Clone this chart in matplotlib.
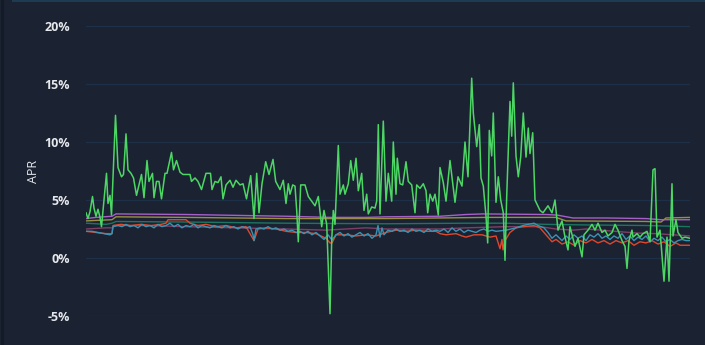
import matplotlib
matplotlib.use("Agg")
import matplotlib.pyplot as plt
from matplotlib.lines import Line2D
from matplotlib.ticker import FuncFormatter

# ---------------- data (day index, APR %) ----------------
green_day = [0, 2, 4, 6.5, 8, 10, 12, 14, 15.5, 18, 20.5, 22, 24, 25.5, 29.5, 32, 35.5, 37.5, 40, 42,
             45, 47.5, 50.5, 55.5, 58, 61, 63, 66.5, 68, 70.5, 73, 75.5, 79, 81, 85.5, 87.5, 90.5, 94, 97, 104,
             105.5, 109, 112, 115.5, 120, 124.5, 126, 129, 132, 135, 137, 140, 144, 147, 150, 154, 157, 160.5, 164.7, 168,
             170.7, 173, 176, 179.7, 183, 187, 189.7, 194, 197.3, 200, 202.3, 204, 206.7, 209, 210.7, 212.3, 214.7, 219, 222.3, 225.7,
             229, 232.3, 235.7, 238, 240.7, 244, 245.7, 247.3, 249, 252.3, 254, 257.3, 259, 262.3, 264.7, 267.3, 270, 272.3, 275.7, 278,
             280.7, 282.3, 285.7, 289, 290.7, 292.3, 294, 297.3, 300, 302.3, 305.7, 307.3, 310, 311.3, 314, 316.7, 320, 322.3, 325.7, 329,
             330.7, 334, 337.3, 340, 341.7, 344, 346.7, 349, 352.3, 354, 357.3, 360, 364, 369, 372, 376, 379, 382, 385.7, 387.3,
             390.7, 393.3, 395, 397.3, 400, 401.7, 403.3, 405.7, 407.3, 410, 412.3, 414.7, 417.3, 419, 420.7, 424, 425.7, 427.3, 430, 432.3,
             434.7, 437.3, 440, 442.3, 444, 446.7, 449, 454, 457, 462, 466, 469, 472, 476, 479, 482, 484, 489,
             492, 496, 498, 502, 506, 509, 512, 516, 519, 522, 526, 529, 532, 536, 539, 541, 543, 546, 547, 551,
             554, 557, 561, 564, 567, 569, 571, 574, 578, 581, 583, 586, 587, 590, 592, 596, 599, 604]
green_apr = [3.9, 3.4, 4.0, 5.3, 4.3, 3.6, 4.2, 3.5, 2.7, 5.0, 7.3, 4.7, 5.4, 3.7, 12.3, 7.8, 7.0, 7.2, 10.7, 7.6,
             7.3, 6.9, 5.4, 7.2, 5.2, 8.4, 6.6, 7.3, 5.2, 6.6, 6.6, 5.1, 7.3, 7.3, 9.1, 7.6, 8.4, 7.4, 7.2, 7.2,
             6.6, 6.9, 6.6, 5.9, 7.3, 7.3, 5.9, 6.6, 6.5, 7.0, 5.1, 6.3, 6.7, 6.1, 6.7, 6.3, 6.4, 5.1, 7.1, 3.4,
             7.3, 3.9, 6.4, 8.3, 7.2, 8.5, 6.6, 5.9, 6.7, 4.7, 6.4, 5.5, 6.3, 6.2, 4.1, 1.4, 6.3, 6.3, 5.3, 4.9,
             4.5, 5.3, 2.7, 4.1, 2.9, -4.8, 1.55, 4.1, 2.9, 9.7, 5.5, 6.3, 5.5, 6.4, 8.4, 6.7, 8.6, 5.8, 7.3, 4.1,
             5.5, 3.8, 4.4, 4.3, 4.9, 11.5, 3.8, 11.8, 4.9, 7.3, 4.9, 10.0, 5.5, 8.6, 6.4, 6.3, 8.3, 6.6, 6.3, 3.9,
             6.3, 6.0, 6.4, 5.8, 3.9, 5.5, 4.9, 5.5, 3.7, 7.8, 6.5, 4.9, 8.4, 4.8, 7.0, 6.2, 10.0, 7.0, 15.5, 12.5,
             9.6, 11.5, 6.9, 6.2, 3.6, 1.3, 11.0, 8.8, 12.5, 4.8, 7.0, 5.0, 3.9, -0.2, 5.3, 13.5, 10.5, 15.1, 8.8, 7.0,
             8.7, 12.5, 8.7, 11.2, 9.0, 10.8, 5.0, 4.1, 3.9, 4.5, 3.9, 5.0, 2.4, 3.2, 1.8, 0.7, 2.7, 1.0,
             1.7, 0.1, 2.0, 2.4, 2.9, 2.4, 3.0, 2.2, 2.4, 1.9, 2.2, 2.9, 2.4, 1.5, 1.0, -0.9, 1.5, 2.4, 1.8, 2.1,
             1.8, 2.1, 2.3, 1.4, 7.6, 7.7, 1.8, 2.4, -2.0, 1.8, -2.0, 6.4, 1.9, 3.3, 2.2, 1.7, 1.8, 1.7]

purple_day = [0, 10, 26, 30, 100, 200, 244, 280, 300, 354, 380, 397, 460, 471, 487, 520, 560, 575, 604]
purple_apr = [3.4, 3.5, 3.6, 3.8, 3.75, 3.6, 3.5, 3.5, 3.55, 3.6, 3.75, 3.8, 3.75, 3.7, 3.45, 3.45, 3.4, 3.3, 3.3]

olive_day = [0, 26, 30, 100, 200, 300, 354, 400, 470, 480, 560, 575, 580, 604]
olive_apr = [3.2, 3.3, 3.55, 3.5, 3.4, 3.4, 3.45, 3.5, 3.5, 3.2, 3.15, 3.1, 3.45, 3.5]

teal_day = [0, 20, 26, 30, 100, 200, 300, 380, 420, 460, 500, 560, 604]
teal_apr = [3.0, 2.9, 3.0, 3.15, 3.1, 3.0, 2.95, 3.0, 3.0, 2.9, 2.85, 2.8, 2.7]

mauve_day = [0, 20, 26, 28, 60, 100, 150, 200, 240, 280, 300, 354, 380, 420, 454, 470, 487, 500, 551, 570, 604]
mauve_apr = [2.5, 2.6, 2.6, 2.8, 2.8, 2.7, 2.6, 2.5, 2.4, 2.6, 2.5, 2.5, 2.6, 2.7, 2.7, 2.5, 2.4, 2.5, 2.15, 2.1, 1.9]

red_day = [0, 10, 20, 26, 27, 35, 45, 55, 65, 75, 80, 82, 95, 100, 104, 112, 120, 130, 140, 150,
           160, 168, 172, 180, 190, 200, 210, 220, 230, 240, 244, 246, 250, 260, 270, 280, 290, 300, 310, 320,
           330, 340, 350, 354, 360, 370, 376, 380, 388, 396, 404, 410, 414, 416, 417, 419, 424, 430, 437, 448,
           454, 460, 466, 470, 476, 482, 488, 494, 500, 506, 512, 518, 524, 530, 536, 542, 548, 554, 560, 566,
           572, 578, 584, 590, 594, 598, 604]
red_apr = [2.3, 2.2, 2.1, 2.1, 2.8, 2.9, 2.8, 2.9, 2.8, 2.9, 3.0, 3.3, 3.3, 3.3, 3.0, 2.8, 2.9, 2.7, 2.8, 2.6,
           2.7, 1.5, 2.5, 2.6, 2.5, 2.3, 2.2, 2.2, 2.1, 1.7, 1.3, 1.3, 2.0, 2.0, 1.9, 2.0, 1.9, 2.2, 2.4, 2.3,
           2.4, 2.3, 2.3, 2.1, 2.0, 2.1, 1.9, 1.8, 2.0, 2.0, 1.8, 1.9, 0.8, 1.6, 0.7, 1.5, 2.2, 2.6, 2.7, 2.8,
           2.6, 2.0, 1.4, 1.6, 1.2, 1.4, 1.1, 1.5, 1.3, 1.6, 1.3, 1.5, 1.2, 1.5, 1.3, 1.5, 1.1, 1.4, 1.3, 1.5,
           1.2, 1.4, 1.0, 1.3, 1.1, 1.1, 1.1]

cyan_day = [0, 6, 12, 18, 24, 26, 27, 32, 36, 40, 44, 48, 52, 56, 60, 64, 68, 72, 76, 80,
            84, 88, 92, 96, 100, 104, 108, 112, 116, 120, 124, 128, 132, 136, 140, 144, 148, 152, 156, 160,
            164, 167, 168, 170, 174, 178, 182, 186, 190, 194, 198, 202, 206, 210, 214, 218, 222, 226, 230, 234,
            238, 242, 246, 250, 254, 258, 262, 266, 270, 274, 278, 282, 286, 290, 292, 294, 296, 298, 302, 306,
            310, 314, 318, 322, 326, 330, 334, 338, 342, 346, 350, 354, 358, 362, 366, 370, 374, 378, 382, 386,
            390, 394, 398, 402, 406, 410, 420, 430, 437, 442, 448, 452, 458, 462, 466, 470, 476, 480, 484, 488,
            492, 496, 500, 504, 508, 512, 516, 520, 524, 528, 532, 536, 540, 544, 548, 552, 556, 560, 564, 568,
            572, 576, 580, 584, 588, 592, 596, 600, 604]
cyan_apr = [2.3, 2.3, 2.2, 2.1, 2.0, 2.1, 2.7, 2.8, 2.7, 2.9, 2.7, 2.8, 2.6, 2.9, 2.7, 2.8, 2.6, 2.9, 2.7, 2.8,
            3.0, 2.7, 2.9, 2.6, 2.8, 2.7, 2.9, 2.6, 2.8, 2.7, 2.6, 2.8, 2.7, 2.6, 2.8, 2.6, 2.7, 2.5, 2.7, 2.6,
            2.7, 2.0, 1.5, 2.5, 2.6, 2.5, 2.7, 2.5, 2.6, 2.4, 2.5, 2.3, 2.4, 2.2, 2.3, 2.1, 2.3, 2.0, 2.2, 1.9,
            1.6, 2.0, 1.55, 2.0, 2.2, 1.9, 2.1, 1.8, 2.0, 2.2, 1.9, 2.1, 1.7, 2.0, 2.8, 1.8, 2.6, 2.0, 2.4, 2.3,
            2.5, 2.3, 2.4, 2.2, 2.5, 2.3, 2.4, 2.2, 2.5, 2.3, 2.4, 2.3, 2.5, 2.2, 2.6, 2.3, 2.5, 2.2, 2.4, 2.3,
            2.2, 2.4, 2.5, 2.3, 2.4, 2.3, 2.4, 2.6, 2.8, 2.9, 3.0, 2.8, 2.6, 2.2, 1.7, 2.0, 1.5, 1.9, 1.6, 2.0,
            1.7, 1.9, 1.5, 2.0, 1.8, 2.1, 1.7, 1.9, 1.6, 1.9, 1.7, 2.1, 1.6, 1.9, 1.5, 1.8, 1.6, 1.9, 1.4, 1.7,
            1.5, 1.8, 1.4, 1.6, 1.3, 1.5, 1.6, 1.5, 1.5]

y_ticks = [-5, 0, 5, 10, 15, 20]
y_label = "APR"

# ---------------- style ----------------
BG = "#1b2232"
GRID = "#1e3048"
TXT = "#e6e8ec"

fig = plt.figure(figsize=(7.05, 3.45), dpi=100, facecolor=BG)
ax = fig.add_axes([86 / 705, (345 - 316) / 345, 604 / 705, 290 / 345])
ax.set_facecolor(BG)

lw = 1.0
ax.plot(mauve_day, mauve_apr, color="#7e3f66", lw=lw)
ax.plot(teal_day, teal_apr, color="#1b7560", lw=lw)
ax.plot(red_day, red_apr, color="#e0472c", lw=lw)
ax.plot(cyan_day, cyan_apr, color="#3b93b3", lw=lw)
ax.plot(olive_day, olive_apr, color="#998f40", lw=lw)
ax.plot(purple_day, purple_apr, color="#a65fcb", lw=lw)
ax.plot(green_day, green_apr, color="#4cd764", lw=1.1)

ax.set_xlim(0, 604)
ax.set_ylim(-5, 20)
ax.set_yticks(y_ticks)
ax.yaxis.set_major_formatter(FuncFormatter(lambda v, p: f"{v:.0f}%"))
ax.set_xticks([])
ax.grid(axis="y", color=GRID, lw=1)
ax.set_axisbelow(True)
for s in ax.spines.values():
    s.set_visible(False)
ax.tick_params(axis="y", length=0, pad=11.5, labelsize=9, labelcolor=TXT)
for t in ax.get_yticklabels():
    t.set_fontfamily("Open Sans")
    t.set_fontweight("bold")
ax.set_ylabel(y_label, color=TXT, fontsize=9, fontfamily="Open Sans", labelpad=3.5)

# frame decorations
fig.add_artist(Line2D([13 / 705, 1], [0.998, 0.998], color="#1f3b52", lw=1.5, transform=fig.transFigure))
fig.add_artist(Line2D([0.003, 0.003], [0, 1], color="#141a26", lw=2, transform=fig.transFigure))

fig.savefig("out.png", dpi=100, facecolor=BG)
